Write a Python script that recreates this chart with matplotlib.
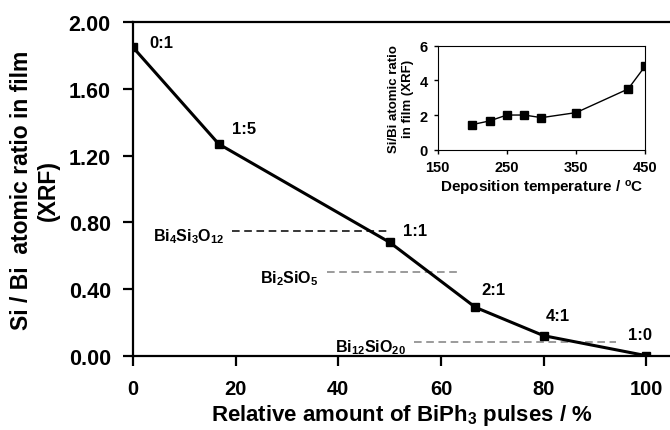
import matplotlib
matplotlib.use('Agg')
import matplotlib.pyplot as plt

plt.rcParams['font.family'] = ['Liberation Sans', 'DejaVu Sans']
plt.rcParams['font.weight'] = 'bold'
plt.rcParams['mathtext.fontset'] = 'custom'
plt.rcParams['mathtext.rm'] = 'Liberation Sans:bold'
plt.rcParams['mathtext.bf'] = 'Liberation Sans:bold'
plt.rcParams['mathtext.it'] = 'Liberation Sans:bold'
plt.rcParams['mathtext.default'] = 'bf'

# main series: BiPh3 pulse fraction vs Si/Bi ratio
pulse_pct = [0, 16.7, 50, 66.7, 80, 100]
si_bi = [1.85, 1.27, 0.68, 0.29, 0.12, 0.0]
ratio_labels = ['0:1', '1:5', '1:1', '2:1', '4:1', '1:0']
label_x = [3.2, 19.3, 52.6, 67.8, 80.4, 96.5]
label_y = [1.88, 1.36, 0.75, 0.40, 0.24, 0.13]

# reference phases (dashed lines)
phase_names = [r'Bi$_4$Si$_3$O$_{12}$', r'Bi$_2$SiO$_5$', r'Bi$_{12}$SiO$_{20}$']
phase_ratio = [0.75, 0.50, 0.083]
phase_x0 = [19.3, 37.7, 54.7]
phase_x1 = [50.1, 63.6, 94.0]
phase_colors = ['black', 'grey', 'grey']

# inset: deposition temperature series
temp_c = [200, 225, 250, 275, 300, 350, 425, 450]
temp_ratio = [1.46, 1.67, 2.01, 2.01, 1.86, 2.15, 3.51, 4.85]

fig = plt.figure(figsize=(6.7, 4.31), dpi=100)
ax = fig.add_axes([0.1985, 0.1724, 0.8015, 0.7735])

ax.plot(pulse_pct, si_bi, color='black', lw=2.2, marker='s', ms=6, zorder=3)
for t, lx, ly in zip(ratio_labels, label_x, label_y):
    ax.text(lx, ly, t, fontsize=12, fontweight='bold', va='center', ha='left')

for name, r, x0, x1, c in zip(phase_names, phase_ratio, phase_x0, phase_x1, phase_colors):
    ax.plot([x0, x1], [r, r], color=c, lw=1.1, dashes=(5, 3))
    ax.text(x0 - 1.5, r - 0.03, name, fontsize=11.5, fontweight='bold', va='center', ha='right')

ax.set_xlim(0, 104.6)
ax.set_ylim(0, 2.0)
ax.set_xticks([0, 20, 40, 60, 80, 100])
ax.set_yticks([0, 0.4, 0.8, 1.2, 1.6, 2.0])
ax.set_yticklabels(['0.00', '0.40', '0.80', '1.20', '1.60', '2.00'])
ax.spines['right'].set_visible(False)
for s in ['left', 'bottom', 'top']:
    ax.spines[s].set_linewidth(1.6)
ax.tick_params(direction='out', length=7, width=1.6, pad=9)
ax.tick_params(axis='x', labelsize=14.5, pad=10)
ax.tick_params(axis='y', labelsize=15.5)
for lbl in ax.get_xticklabels() + ax.get_yticklabels():
    lbl.set_fontweight('bold')
ax.set_xlabel(r'Relative amount of BiPh$_3$ pulses / %', fontsize=16, fontweight='bold', labelpad=3)
ax.set_ylabel('Si / Bi  atomic ratio in film\n(XRF)', fontsize=16.5, fontweight='bold',
              labelpad=6, linespacing=1.25)

# inset
ins = fig.add_axes([0.653, 0.6497, 0.3104, 0.242])
ins.plot(temp_c, temp_ratio, color='black', lw=1, marker='s', ms=6)
ins.set_xlim(150, 450)
ins.set_ylim(0, 6)
ins.set_xticks([150, 250, 350, 450])
ins.set_yticks([0, 2, 4, 6])
ins.tick_params(direction='out', length=3, width=1, labelsize=10.5, pad=4)
for lbl in ins.get_xticklabels() + ins.get_yticklabels():
    lbl.set_fontweight('bold')
ins.set_xlabel(r'Deposition temperature / $^{\mathregular{o}}$C', fontsize=11, fontweight='bold', labelpad=3)
ins.set_ylabel('Si/Bi atomic ratio\nin film (XRF)', fontsize=9.5, fontweight='bold', labelpad=4)

plt.savefig('out.png', dpi=100)
